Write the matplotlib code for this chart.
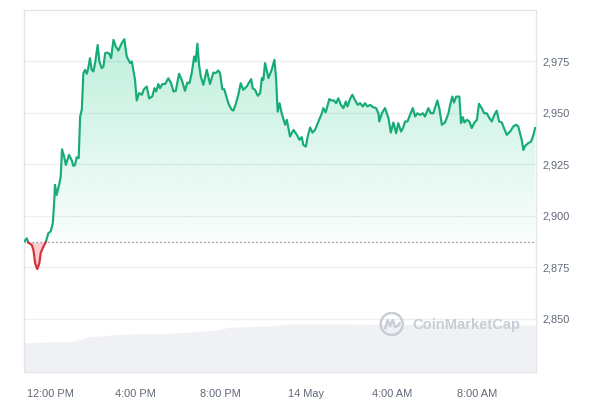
import numpy as np
import matplotlib
matplotlib.use("Agg")
import matplotlib.pyplot as plt
from matplotlib.path import Path
from matplotlib.patches import Ellipse

# ---------------- data ----------------
hours = [-1.19,-1.09,-1.02,-0.86,-0.78,-0.70,-0.60,-0.50,-0.44,-0.31,-0.19,-0.08,0.03,0.13,0.20,0.23,0.31,0.44,0.50,0.56,
         0.66,0.74,0.89,1.02,1.09,1.17,1.25,1.34,1.41,1.49,1.56,1.64,1.72,1.79,1.87,1.95,2.03,2.11,2.23,2.31,
         2.42,2.50,2.58,2.68,2.78,2.86,2.97,3.08,3.20,3.36,3.48,3.59,3.67,3.75,3.83,3.98,4.06,4.17,4.30,4.40,
         4.53,4.64,4.79,4.89,4.97,5.07,5.15,5.26,5.39,5.54,5.67,5.78,5.89,6.04,6.17,6.32,6.43,6.53,6.64,6.75,
         6.82,6.90,6.98,7.06,7.18,7.34,7.49,7.65,7.76,7.88,7.96,8.07,8.16,8.28,8.38,8.51,8.59,8.70,8.82,8.93,
         9.05,9.21,9.42,9.49,9.60,9.73,9.84,9.92,9.99,10.07,10.23,10.38,10.51,10.59,10.66,10.75,10.85,11.01,11.09,11.24,
         11.40,11.56,11.68,11.79,11.86,11.98,12.07,12.18,12.29,12.41,12.57,12.73,12.80,12.91,13.08,13.19,13.30,13.40,13.50,13.62,
         13.74,13.85,13.93,14.05,14.16,14.29,14.41,14.52,14.65,14.75,14.86,14.99,15.12,15.27,15.38,15.42,15.54,15.69,15.85,15.96,
         16.08,16.21,16.31,16.44,16.53,16.63,16.74,16.86,16.99,17.10,17.20,17.33,17.46,17.56,17.72,17.83,17.95,18.14,18.23,18.35,
         18.50,18.66,18.74,18.84,18.92,19.02,19.17,19.25,19.33,19.41,19.52,19.64,19.75,19.86,19.99,20.09,20.22,20.33,20.45,20.58,
         20.69,20.81,20.92,21.03,21.16,21.23,21.39,21.55,21.70,21.83,21.93,22.09,22.17,22.25,22.40,22.53,22.64,22.72]
prices = [2887.6,2889.0,2886.9,2885.8,2883.4,2876.9,2874.0,2876.9,2881.8,2885.0,2887.4,2891.5,2892.3,2896.4,2907.7,2915.0,2910.1,2915.8,2919.0,2932.3,
          2928.7,2924.7,2929.6,2926.8,2924.2,2924.7,2928.4,2928.0,2948.2,2951.8,2969.3,2970.9,2969.0,2971.7,2976.6,2970.9,2970.1,2974.2,2983.0,2975.0,
          2971.7,2972.5,2979.0,2979.3,2978.7,2976.6,2985.5,2982.2,2980.3,2983.9,2985.8,2977.4,2975.8,2974.2,2975.0,2966.0,2956.0,2959.6,2958.8,2961.5,
          2962.8,2957.0,2958.0,2962.0,2960.4,2964.0,2962.0,2964.0,2964.0,2966.8,2964.4,2960.4,2960.7,2969.0,2966.0,2960.7,2964.7,2964.4,2969.6,2977.4,
          2975.0,2983.6,2973.3,2967.7,2963.6,2970.9,2964.0,2969.6,2969.3,2970.6,2969.3,2961.5,2961.5,2957.1,2953.9,2951.5,2951.1,2954.4,2958.8,2964.4,
          2961.2,2962.8,2966.4,2962.0,2961.2,2958.3,2959.6,2966.9,2966.0,2974.2,2966.9,2970.9,2975.8,2966.0,2950.6,2954.7,2949.8,2944.2,2946.6,2938.5,
          2941.7,2939.3,2936.9,2938.2,2934.4,2933.6,2938.5,2942.9,2940.4,2941.7,2945.8,2949.8,2952.3,2950.2,2956.7,2956.0,2956.0,2954.7,2957.1,2953.9,
          2952.3,2955.5,2953.1,2956.7,2958.8,2956.0,2953.9,2954.7,2953.1,2954.7,2953.1,2953.9,2952.8,2952.3,2949.8,2945.8,2949.8,2952.3,2947.4,2940.4,
          2945.3,2940.1,2945.0,2940.9,2942.6,2945.8,2945.8,2949.0,2952.3,2948.2,2949.8,2949.0,2949.8,2948.2,2952.3,2949.8,2949.8,2956.0,2952.3,2944.2,
          2945.3,2949.8,2953.9,2957.9,2955.0,2957.9,2957.9,2945.0,2947.9,2945.3,2946.6,2945.8,2942.6,2945.0,2946.6,2954.4,2952.3,2949.8,2949.8,2947.4,
          2945.8,2949.0,2951.1,2945.8,2945.3,2943.4,2939.3,2940.9,2943.4,2944.2,2943.4,2936.9,2932.0,2933.9,2935.3,2936.0,2939.3,2942.6]
open_price = 2887.1

vol_hours = [-1.22, 0.47, 1.17, 1.41, 1.87, 3.28, 5.62, 7.49, 8.43, 10.30, 11.24, 16.39, 22.76]
vol_values = [29.3, 30.3, 31.0, 32.7, 35.3, 37.7, 38.7, 41.3, 44.7, 46.0, 48.0, 47.5, 47.0]

x_ticks = [0, 4, 8, 12, 16, 20]
x_labels = ["12:00 PM", "4:00 PM", "8:00 PM", "14 May", "4:00 AM", "8:00 AM"]
y_ticks = [2850, 2875, 2900, 2925, 2950, 2975]
y_labels = ["2,850", "2,875", "2,900", "2,925", "2,950", "2,975"]

GREEN = "#16c784"
LINE_GREEN = "#17ab76"
RED = "#ea3943"
LINE_RED = "#d8303b"
LABEL = "#616a78"
GRID = "#eceef1"

plt.rcParams['font.family'] = ['Liberation Sans', 'DejaVu Sans']

fig = plt.figure(figsize=(6, 4), dpi=100)
pos = [24/600, 28/400, 512/600, 362/400]
XLIM = (-1.22, 22.76)
YLIM = (2824, 3000)

# volume axes (background)
axv = fig.add_axes(pos, zorder=0)
axv.fill_between(vol_hours, vol_values, 0, color="#eff1f4", lw=0)
axv.set_xlim(*XLIM)
axv.set_ylim(0, 362)
axv.axis('off')

ax = fig.add_axes(pos, zorder=1)
ax.patch.set_alpha(0)

x = np.array(hours, float)
y = np.array(prices, float)

# insert crossing points
xs, ys = [x[0]], [y[0]]
for i in range(1, len(x)):
    a, b = y[i-1] - open_price, y[i] - open_price
    if a * b < 0:
        t = a / (a - b)
        xs.append(x[i-1] + t * (x[i] - x[i-1]))
        ys.append(open_price)
    xs.append(x[i]); ys.append(y[i])
xs = np.array(xs); ys = np.array(ys)

# green gradient fill
poly = ax.fill_between(xs, ys, open_price, where=ys >= open_price, interpolate=True,
                       facecolor='none', edgecolor='none')
clip = Path.make_compound_path(*poly.get_paths())
n = 256
grad = np.zeros((n, 1, 4))
grad[..., 0], grad[..., 1], grad[..., 2] = matplotlib.colors.to_rgb(GREEN)
grad[:, 0, 3] = np.linspace(0.02, 0.28, n)
im = ax.imshow(grad, extent=[XLIM[0], XLIM[1], open_price, ys.max()], origin='lower',
               aspect='auto', zorder=1, interpolation='bilinear')
im.set_clip_path(clip, transform=ax.transData)

# red fill
ax.fill_between(xs, ys, open_price, where=ys <= open_price, interpolate=True,
                color=RED, alpha=0.25, lw=0, zorder=1)

g = np.where(ys >= open_price, ys, np.nan)
r = np.where(ys <= open_price, ys, np.nan)
ax.plot(xs, g, color=LINE_GREEN, lw=1.55, zorder=3, solid_joinstyle='round')
ax.plot(xs, r, color=LINE_RED, lw=1.55, zorder=3, solid_joinstyle='round')

ax.axhline(open_price, color="#6f7580", lw=0.9, ls=(0, (1, 2.2)), zorder=2)

ax.set_xlim(*XLIM)
ax.set_ylim(*YLIM)
ax.set_xticks(x_ticks)
ax.set_xticklabels(x_labels)
ax.set_yticks(y_ticks)
ax.set_yticklabels(y_labels)
ax.yaxis.tick_right()
ax.tick_params(axis='y', length=0, pad=5, labelsize=7.9, labelcolor=LABEL)
ax.tick_params(axis='x', length=0, pad=12, labelsize=7.9, labelcolor=LABEL)
ax.grid(axis='y', color=GRID, lw=0.9)
ax.set_axisbelow(True)
for s in ax.spines.values():
    s.set_color("#e3e5e9")
    s.set_linewidth(0.9)

# watermark
cx, cy = 391.7/600, 1 - 324/400
wm = "#c9ced6"
fig.patches.append(Ellipse((cx, cy), 22/600, 22/400, transform=fig.transFigure,
                           fill=False, edgecolor=wm, lw=1.8, zorder=5))
mx = [-6.5, -4, -1.5, 1, 3.5, 6.5, 8]
my = [-4.5, 4, -2, 4, -3, -1.5, 1]
fig.add_artist(plt.Line2D([cx + v/600 for v in mx], [cy + v/400 for v in my],
                          transform=fig.transFigure, color=wm, lw=1.8, zorder=5,
                          solid_joinstyle='round', solid_capstyle='round'))
fig.text(412/600, 1 - 325/400, "CoinMarketCap", ha='left', va='center',
         fontsize=10.6, fontweight='bold', color=wm, zorder=5)

fig.savefig("out.png", dpi=100)
